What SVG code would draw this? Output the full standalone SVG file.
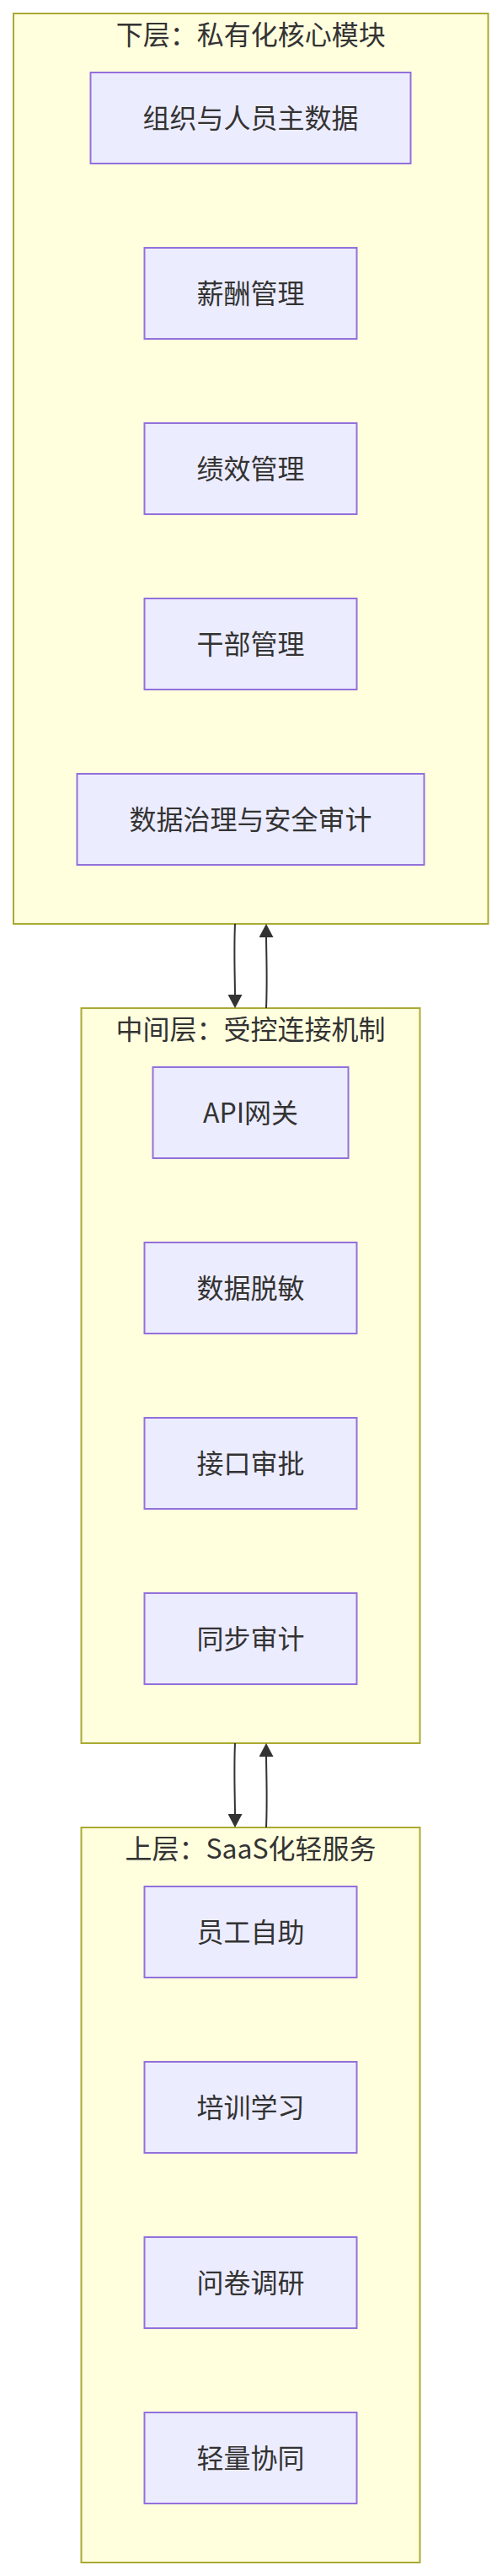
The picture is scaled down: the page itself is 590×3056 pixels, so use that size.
<svg xmlns="http://www.w3.org/2000/svg" width="590" height="3056" viewBox="0 0 590 3056">
<style>
.cluster rect{fill:#ffffde;stroke:#aaaa33;stroke-width:2}
.node rect{fill:#ECECFF;stroke:#9370DB;stroke-width:2}
text{font-family:"Noto Sans CJK SC","Noto Sans",sans-serif;font-size:32px;fill:#333333;text-anchor:middle}
.edge{fill:none;stroke:#333333;stroke-width:2}
</style>
<defs>
<marker id="arrow" markerUnits="userSpaceOnUse" viewBox="0 0 16 17" markerWidth="16" markerHeight="17" refX="4" refY="8.5" orient="auto">
<path d="M0,0 L16,8.5 L0,17 z" fill="#333333"/>
</marker>
</defs>
<rect width="590" height="3056" fill="#ffffff"/>

<g id="cluster-lower" class="cluster">
<rect x="16" y="16" width="563.5" height="1080"/>
<text x="297.75" y="53">下层：私有化核心模块</text>
</g>
<g id="cluster-middle" class="cluster">
<rect x="96.5" y="1196" width="402" height="872"/>
<text x="297.5" y="1233">中间层：受控连接机制</text>
</g>
<g id="cluster-upper" class="cluster">
<rect x="96.5" y="2168" width="402" height="872"/>
<text x="297.5" y="2205">上层：SaaS化轻服务</text>
</g>

<g id="connectors">
<path class="edge" d="M279,1096 C277.5,1130 279,1160 279,1184" marker-end="url(#arrow)"/>
<path class="edge" d="M316,1196 C317.5,1160 316,1130 316,1108" marker-end="url(#arrow)"/>
<path class="edge" d="M279,2068 C277.5,2102 279,2132 279,2156" marker-end="url(#arrow)"/>
<path class="edge" d="M316,2168 C317.5,2132 316,2102 316,2080" marker-end="url(#arrow)"/>
</g>

<g id="node-org" class="node"><rect x="107.5" y="86" width="380" height="108"/><text x="297.5" y="152">组织与人员主数据</text></g>
<g id="node-salary" class="node"><rect x="171.5" y="294" width="252" height="108"/><text x="297.5" y="360">薪酬管理</text></g>
<g id="node-performance" class="node"><rect x="171.5" y="502" width="252" height="108"/><text x="297.5" y="568">绩效管理</text></g>
<g id="node-cadre" class="node"><rect x="171.5" y="710" width="252" height="108"/><text x="297.5" y="776">干部管理</text></g>
<g id="node-governance" class="node"><rect x="91.5" y="918" width="412" height="108"/><text x="297.5" y="984">数据治理与安全审计</text></g>

<g id="node-api" class="node"><rect x="181.5" y="1266" width="232" height="108"/><text x="297.5" y="1332">API网关</text></g>
<g id="node-masking" class="node"><rect x="171.5" y="1474" width="252" height="108"/><text x="297.5" y="1540">数据脱敏</text></g>
<g id="node-approval" class="node"><rect x="171.5" y="1682" width="252" height="108"/><text x="297.5" y="1748">接口审批</text></g>
<g id="node-syncaudit" class="node"><rect x="171.5" y="1890" width="252" height="108"/><text x="297.5" y="1956">同步审计</text></g>

<g id="node-selfservice" class="node"><rect x="171.5" y="2238" width="252" height="108"/><text x="297.5" y="2304">员工自助</text></g>
<g id="node-training" class="node"><rect x="171.5" y="2446" width="252" height="108"/><text x="297.5" y="2512">培训学习</text></g>
<g id="node-survey" class="node"><rect x="171.5" y="2654" width="252" height="108"/><text x="297.5" y="2720">问卷调研</text></g>
<g id="node-collab" class="node"><rect x="171.5" y="2862" width="252" height="108"/><text x="297.5" y="2928">轻量协同</text></g>
</svg>
